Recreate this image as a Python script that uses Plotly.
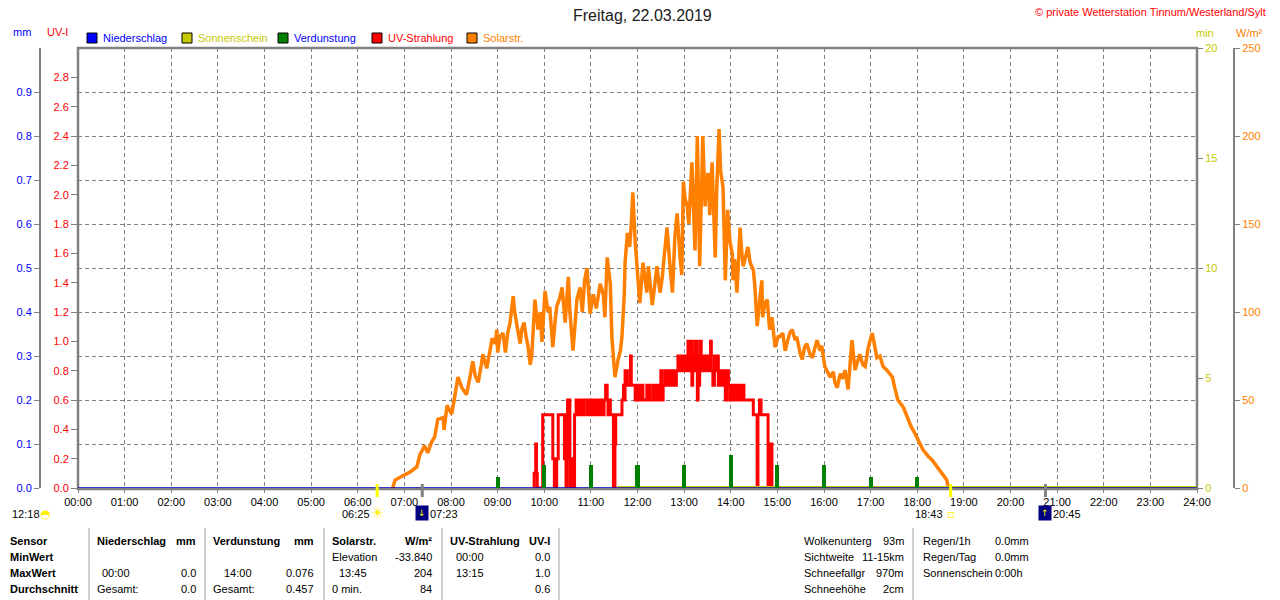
import plotly.graph_objects as go

# ── Data (Freitag, 22.03.2019) ───────────────────────────────────────────────
hour_labels = [f"{h:02d}:00" for h in range(25)]

# Solar radiation, W/m²
solar_times = [
    "06:45", "06:48", "06:58", "07:07", "07:16", "07:20", "07:26", "07:30", "07:35", "07:39",
    "07:43", "07:50", "07:51", "07:55", "08:01", "08:05", "08:09", "08:14", "08:20", "08:24",
    "08:28", "08:31", "08:35", "08:39", "08:41", "08:46", "08:50", "08:53", "08:57", "08:59",
    "09:00", "09:03", "09:07", "09:10", "09:13", "09:16", "09:20", "09:22", "09:25", "09:29",
    "09:31", "09:34", "09:37", "09:39", "09:42", "09:44", "09:48", "09:51", "09:52", "09:55",
    "09:57", "10:01", "10:05", "10:07", "10:11", "10:14", "10:16", "10:20", "10:23", "10:27",
    "10:31", "10:33", "10:37", "10:40", "10:42", "10:46", "10:49", "10:52", "10:55", "10:59",
    "11:03", "11:07", "11:12", "11:16", "11:18", "11:21", "11:25", "11:27", "11:30", "11:31",
    "11:34", "11:35", "11:38", "11:40", "11:43", "11:44", "11:47", "11:50", "11:52", "11:54",
    "11:57", "11:59", "12:03", "12:07", "12:10", "12:12", "12:14", "12:16", "12:19", "12:23",
    "12:25", "12:29", "12:32", "12:34", "12:38", "12:42", "12:45", "12:48", "12:51", "12:55",
    "12:57", "12:59", "13:01", "13:04", "13:06", "13:10", "13:12", "13:14", "13:17", "13:19",
    "13:20", "13:23", "13:24", "13:27", "13:29", "13:31", "13:33", "13:36", "13:38", "13:40",
    "13:42", "13:45", "13:47", "13:50", "13:53", "13:55", "13:56", "13:59", "14:02", "14:03",
    "14:05", "14:08", "14:12", "14:14", "14:16", "14:20", "14:22", "14:25", "14:29", "14:31",
    "14:34", "14:38", "14:40", "14:41", "14:44", "14:47", "14:50", "14:53", "14:57", "15:01",
    "15:03", "15:07", "15:10", "15:14", "15:16", "15:19", "15:23", "15:25", "15:29", "15:32",
    "15:35", "15:38", "15:42", "15:45", "15:48", "15:51", "15:55", "15:57", "16:01", "16:05",
    "16:08", "16:12", "16:14", "16:17", "16:21", "16:24", "16:27", "16:31", "16:33", "16:36",
    "16:40", "16:43", "16:46", "16:50", "16:53", "16:57", "16:59", "17:02", "17:06", "17:08",
    "17:12", "17:16", "17:21", "17:28", "17:31", "17:35", "17:42", "17:47", "17:52", "17:57",
    "18:02", "18:07", "18:14", "18:19", "18:24", "18:29", "18:34", "18:38", "18:40",
]
solar_wm2 = [
    0, 4.5, 7, 9, 12, 19, 24, 20, 26, 29,
    39, 40, 33, 47, 42, 52, 63, 57, 53, 62,
    72, 64, 60, 70, 76, 68, 78, 85, 82, 90,
    77, 86, 88, 77, 88, 94, 109, 100, 92, 82,
    90, 94, 85, 81, 70, 76, 107, 95, 90, 100,
    83, 112, 100, 103, 80, 95, 103, 108, 114, 94,
    120, 100, 78, 95, 107, 114, 100, 118, 125, 99,
    110, 102, 116, 110, 97, 131, 116, 86, 66, 63,
    70, 73, 78, 86, 110, 128, 145, 137, 150, 168,
    140, 128, 105, 128, 118, 111, 126, 115, 104, 118,
    126, 111, 120, 130, 148, 125, 111, 142, 156, 130,
    121, 174, 165, 160, 150, 185, 160, 135, 200, 150,
    126, 180, 200, 160, 175, 179, 155, 185, 150, 131,
    170, 204, 180, 171, 118, 150, 158, 140, 133, 118,
    130, 111, 148, 135, 126, 133, 137, 128, 124, 115,
    92, 110, 118, 97, 105, 107, 90, 97, 80, 86,
    86, 88, 78, 85, 88, 90, 84, 86, 77, 73,
    80, 82, 76, 74, 80, 84, 78, 81, 69, 66,
    63, 66, 60, 57, 65, 62, 67, 56, 68, 84,
    67, 72, 76, 70, 69, 80, 84, 88, 79, 74,
    75, 69, 67, 63, 57, 50, 46, 40, 35, 31,
    27, 22, 18, 16, 13, 10, 7, 4.5, 0,
]

# UV index, stepped readings (time, UV-I)
uv_readings = [
    ("09:46", 0.0), ("09:47", 0.1), ("09:49", 0.3), ("09:50", 0.1), ("09:51", 0.0),
    ("09:58", 0.5), ("10:11", 0.2), ("10:13", 0.0), ("10:16", 0.2), ("10:18", 0.5),
    ("10:26", 0.2), ("10:27", 0.5), ("10:28", 0.0), ("10:29", 0.5), ("10:30", 0.6),
    ("10:31", 0.2), ("10:32", 0.6), ("10:33", 0.0), ("10:35", 0.2), ("10:36", 0.0),
    ("10:39", 0.5), ("10:41", 0.6), ("10:43", 0.5), ("10:44", 0.6), ("10:46", 0.5),
    ("10:47", 0.6), ("10:50", 0.5), ("10:51", 0.6), ("10:55", 0.5), ("10:56", 0.6),
    ("10:58", 0.5), ("10:59", 0.6), ("11:02", 0.5), ("11:03", 0.6), ("11:05", 0.5),
    ("11:06", 0.6), ("11:09", 0.5), ("11:10", 0.6), ("11:13", 0.5), ("11:14", 0.6),
    ("11:16", 0.5), ("11:17", 0.6), ("11:19", 0.7), ("11:21", 0.6), ("11:22", 0.5),
    ("11:24", 0.6), ("11:25", 0.5), ("11:29", 0.0), ("11:31", 0.3), ("11:32", 0.5),
    ("11:40", 0.6), ("11:42", 0.7), ("11:43", 0.6), ("11:44", 0.8), ("11:46", 0.7),
    ("11:50", 0.8), ("11:51", 0.9), ("11:52", 0.7), ("11:57", 0.6), ("11:59", 0.7),
    ("12:00", 0.6), ("12:03", 0.7), ("12:04", 0.6), ("12:06", 0.7), ("12:07", 0.6),
    ("12:12", 0.7), ("12:13", 0.6), ("12:15", 0.7), ("12:16", 0.6), ("12:20", 0.7),
    ("12:22", 0.6), ("12:25", 0.7), ("12:27", 0.6), ("12:29", 0.7), ("12:30", 0.8),
    ("12:31", 0.6), ("12:33", 0.7), ("12:35", 0.8), ("12:37", 0.7), ("12:38", 0.8),
    ("12:40", 0.7), ("12:42", 0.8), ("12:44", 0.7), ("12:46", 0.8), ("12:48", 0.7),
    ("12:50", 0.8), ("12:52", 0.9), ("12:53", 0.8), ("12:55", 0.9), ("12:57", 0.8),
    ("12:58", 0.9), ("13:00", 0.8), ("13:02", 0.9), ("13:03", 0.8), ("13:05", 1.0),
    ("13:06", 0.8), ("13:07", 0.9), ("13:09", 1.0), ("13:10", 0.7), ("13:11", 0.9),
    ("13:13", 0.8), ("13:14", 1.0), ("13:16", 0.8), ("13:17", 0.6), ("13:18", 0.9),
    ("13:19", 0.7), ("13:20", 1.0), ("13:22", 0.8), ("13:24", 0.9), ("13:26", 0.8),
    ("13:27", 0.9), ("13:30", 0.8), ("13:32", 0.9), ("13:34", 1.0), ("13:35", 0.8),
    ("13:37", 0.7), ("13:39", 0.9), ("13:40", 0.8), ("13:42", 0.9), ("13:44", 0.7),
    ("13:46", 0.8), ("13:48", 0.7), ("13:50", 0.8), ("13:52", 0.7), ("13:53", 0.6),
    ("13:55", 0.8), ("13:57", 0.7), ("13:59", 0.6), ("14:00", 0.7), ("14:01", 0.6),
    ("14:04", 0.7), ("14:06", 0.6), ("14:08", 0.7), ("14:10", 0.6), ("14:12", 0.7),
    ("14:13", 0.6), ("14:16", 0.7), ("14:17", 0.6), ("14:29", 0.5), ("14:34", 0.0),
    ("14:35", 0.5), ("14:37", 0.6), ("14:39", 0.5), ("14:48", 0.0), ("14:50", 0.2),
    ("14:51", 0.3), ("14:53", 0.0), ("14:54", 0.0),
]

# Evaporation, mm per hour
evap_times = ["09:00", "10:00", "11:00", "12:00", "13:00", "14:00", "15:00", "16:00", "17:00", "18:00"]
evap_mm = [0.025, 0.052, 0.052, 0.052, 0.052, 0.076, 0.052, 0.052, 0.025, 0.025]

# Sunshine (min) and rain (mm) - both zero
sun_times = ["11:34", "24:00"]
sun_min = [0, 0]
rain_times = ["00:00", "24:00"]
rain_mm = [0, 0]

# Sun / moon events
sunrise, sunset = "06:25", "18:43"
moonrise, moonset = "07:23", "20:45"
day_length = "12:18"

# Summary table
table_rows = ["Sensor", "MinWert", "MaxWert", "Durchschnitt"]
right_labels = ["Wolkenunterg", "Sichtweite", "Schneefallgr", "Schneehöhe"]
right_values = ["93m", "11-15km", "970m", "2cm"]
rain_labels = ["Regen/1h", "Regen/Tag", "Sonnenschein"]
rain_values = ["0.0mm", "0.0mm", "0:00h"]

legend_items = ["Niederschlag", "Sonnenschein", "Verdunstung", "UV-Strahlung", "Solarstr."]

BLUE, YEL, GRN, RED, ORG, GRAY = "#0000ff", "#c8c800", "#008000", "#ff0000", "#ff8000", "#808080"
FONT = "Liberation Sans, Arial, sans-serif"
W, H = 1280, 600


def hrs(t):
    h, m = t.split(":")
    return int(h) + int(m) / 60


def px(x):
    return x / W


def py(y):
    return 1 - y / H


fig = go.Figure()

fig.add_trace(go.Scatter(
    x=[hrs(t) for t in solar_times], y=solar_wm2, yaxis="y", mode="lines",
    line=dict(color=ORG, width=3.5), cliponaxis=False,
))
fig.add_trace(go.Scatter(
    x=[hrs(t) for t, _ in uv_readings], y=[v for _, v in uv_readings], yaxis="y2",
    mode="lines", line=dict(color=RED, width=3, shape="hv"), cliponaxis=False,
))
fig.add_trace(go.Bar(
    x=[hrs(t) for t in evap_times], y=evap_mm, yaxis="y4", width=0.09,
    marker=dict(color=GRN, line=dict(width=0)),
))
fig.add_trace(go.Scatter(
    x=[hrs(t) for t in sun_times], y=sun_min, yaxis="y3", mode="lines",
    line=dict(color=YEL, width=4), cliponaxis=False,
))
# zero rain line shares the sunshine layer so it is stacked above it
fig.add_trace(go.Scatter(
    x=[hrs(t) for t in rain_times], y=rain_mm, yaxis="y3", mode="lines",
    line=dict(color="#0000c0", width=1.5), cliponaxis=False,
))

ann = []


def txt(x, y, s, color="black", size=11, anchor="left", bold=False, xref="paper", family=FONT):
    ann.append(dict(
        x=x if xref == "x" else px(x), y=py(y), xref=xref, yref="paper",
        text=f"<b>{s}</b>" if bold else s,
        showarrow=False, xanchor=anchor, yanchor="middle",
        font=dict(family=family, size=size, color=color),
    ))


# Title and copyright
txt(642, 15, "Freitag, 22.03.2019", "#202020", 16, "center")
txt(1268, 12, "© private Wetterstation Tinnum/Westerland/Sylt", RED, 11, "right")

# Axis unit labels
txt(22, 32, "mm", BLUE, 11, "center")
txt(57, 32, "UV-I", RED, 11, "center")
txt(1205, 33, "min", YEL, 11, "center")
txt(1249, 33, "W/m²", ORG, 11, "center")

# Custom legend
shapes = []
leg_sq = [87, 182, 278, 372, 467]
leg_fill = [BLUE, YEL, GRN, RED, ORG]
leg_txt = [BLUE, YEL, BLUE, RED, ORG]
for name, x0, fc, tc in zip(legend_items, leg_sq, leg_fill, leg_txt):
    shapes.append(dict(type="rect", xref="paper", yref="paper", x0=px(x0), x1=px(x0 + 10),
                       y0=py(43), y1=py(33), fillcolor=fc, line=dict(color="black", width=1)))
    txt(x0 + 14, 38, name, tc, 11)

# Plot frame
shapes.append(dict(type="rect", xref="paper", yref="paper", x0=px(78), x1=px(1197),
                   y0=py(489), y1=py(48), line=dict(color=GRAY, width=2.5), layer="below"))

# Sun / moon event ticks under the time axis
for t, col in [(sunrise, "#ffff00"), (sunset, "#ffff00"), (moonrise, GRAY), (moonset, GRAY)]:
    shapes.append(dict(type="line", xref="x", yref="paper", x0=hrs(t), x1=hrs(t),
                       y0=py(497), y1=py(484), line=dict(color=col, width=3)))

txt(hrs(sunrise) - 0.12, 514, sunrise, anchor="right", xref="x")
txt(hrs(sunrise), 513, "☀", "#ffee00", 15, "center", xref="x", family="DejaVu Sans")
txt(hrs(sunset) - 0.12, 514, sunset, anchor="right", xref="x")
txt(hrs(sunset), 514, "▫", "#ffee00", 12, "center", xref="x", family="DejaVu Sans")
txt(hrs(moonrise) + 0.12, 514, moonrise, anchor="left", xref="x")
txt(hrs(moonset) + 0.12, 514, moonset, anchor="left", xref="x")
for t, arrow in [(moonrise, "↓"), (moonset, "↑")]:
    ann.append(dict(x=hrs(t), y=py(513), xref="x", yref="paper", text=arrow, showarrow=False,
                    xanchor="center", yanchor="middle", bgcolor="#000080", borderpad=2,
                    font=dict(family="DejaVu Sans", size=9, color="#ffff00")))
txt(10, 514, day_length)
txt(45, 514, "◓", "#ffee00", 12, "center", family="DejaVu Sans")

# Summary table (left)
rows_y = [541, 557, 573, 589]
for lab, y in zip(table_rows, rows_y):
    txt(8, y, lab, bold=True)

txt(95, rows_y[0], "Niederschlag", bold=True)
txt(198, rows_y[0], "mm", bold=True, anchor="right")
txt(100, rows_y[2], "00:00")
txt(198, rows_y[2], "0.0", anchor="right")
txt(95, rows_y[3], "Gesamt:")
txt(198, rows_y[3], "0.0", anchor="right")

txt(211, rows_y[0], "Verdunstung", bold=True)
txt(316, rows_y[0], "mm", bold=True, anchor="right")
txt(222, rows_y[2], "14:00")
txt(316, rows_y[2], "0.076", anchor="right")
txt(211, rows_y[3], "Gesamt:")
txt(316, rows_y[3], "0.457", anchor="right")

txt(330, rows_y[0], "Solarstr.", bold=True)
txt(434, rows_y[0], "W/m²", bold=True, anchor="right")
txt(330, rows_y[1], "Elevation")
txt(434, rows_y[1], "-33.840", anchor="right")
txt(337, rows_y[2], "13:45")
txt(434, rows_y[2], "204", anchor="right")
txt(330, rows_y[3], "0 min.")
txt(434, rows_y[3], "84", anchor="right")

txt(448, rows_y[0], "UV-Strahlung", bold=True)
txt(552, rows_y[0], "UV-I", bold=True, anchor="right")
txt(454, rows_y[1], "00:00")
txt(552, rows_y[1], "0.0", anchor="right")
txt(454, rows_y[2], "13:15")
txt(552, rows_y[2], "1.0", anchor="right")
txt(552, rows_y[3], "0.6", anchor="right")

# Summary table (right)
for lab, val, y in zip(right_labels, right_values, rows_y):
    txt(802, y, lab)
    txt(906, y, val, anchor="right")
for lab, val, y in zip(rain_labels, rain_values, rows_y):
    txt(921, y, lab)
    txt(993, y, val)

for x in [89, 205, 324, 442, 559, 913]:
    shapes.append(dict(type="line", xref="paper", yref="paper", x0=px(x), x1=px(x),
                       y0=py(600), y1=py(528), line=dict(color="#a0a0a0", width=1)))

tick_font = dict(family=FONT, size=11)
fig.update_layout(
    width=W, height=H,
    margin=dict(l=0, r=0, t=0, b=0, autoexpand=False),
    paper_bgcolor="white", plot_bgcolor="white",
    showlegend=False, bargap=0,
    font=dict(family=FONT, size=11, color="black"),
    xaxis=dict(
        domain=[px(78), px(1197)], range=[0, 24],
        tickvals=list(range(25)), ticktext=hour_labels,
        showgrid=True, gridcolor=GRAY, griddash="4px,3px", gridwidth=1,
        ticks="outside", ticklen=4, tickcolor=GRAY,
        zeroline=False, showline=False, tickfont=dict(tick_font, color="black"),
    ),
    # W/m² (main axis, free on the far right)
    yaxis=dict(
        domain=[py(488), py(48)], anchor="free", position=px(1234), side="right",
        range=[0, 250], tickvals=[0, 50, 100, 150, 200, 250],
        ticks="outside", ticklen=5, tickcolor=GRAY,
        showline=True, linecolor=GRAY, linewidth=2,
        tickfont=dict(tick_font, color=ORG), showgrid=False, zeroline=False,
    ),
    # UV-I
    yaxis2=dict(
        overlaying="y", anchor="x", side="left", range=[0, 3],
        tickvals=[i / 5 for i in range(15)], tickformat=".1f",
        ticks="outside", ticklen=6, tickcolor=GRAY,
        tickfont=dict(tick_font, color=RED),
        showgrid=False, zeroline=False, showline=False,
    ),
    # Sonnenschein minutes
    yaxis3=dict(
        overlaying="y", anchor="x", side="right", range=[0, 20],
        tickvals=[0, 5, 10, 15, 20], ticks="outside", ticklen=5, tickcolor=GRAY,
        tickfont=dict(tick_font, color=YEL), showgrid=False, zeroline=False,
    ),
    # mm (free on the far left, carries the horizontal grid)
    yaxis4=dict(
        overlaying="y", anchor="free", position=px(40), side="left",
        range=[0, 1], tickvals=[i / 10 for i in range(10)], tickformat=".1f",
        ticks="outside", ticklen=5, tickcolor=GRAY,
        showline=True, linecolor=GRAY, linewidth=2,
        tickfont=dict(tick_font, color=BLUE),
        showgrid=True, gridcolor=GRAY, griddash="4px,3px", gridwidth=1, zeroline=False,
    ),
    annotations=ann,
    shapes=shapes,
)

fig.write_html("out.html", config={"displayModeBar": False},
               post_script="document.body.style.margin='0';")
